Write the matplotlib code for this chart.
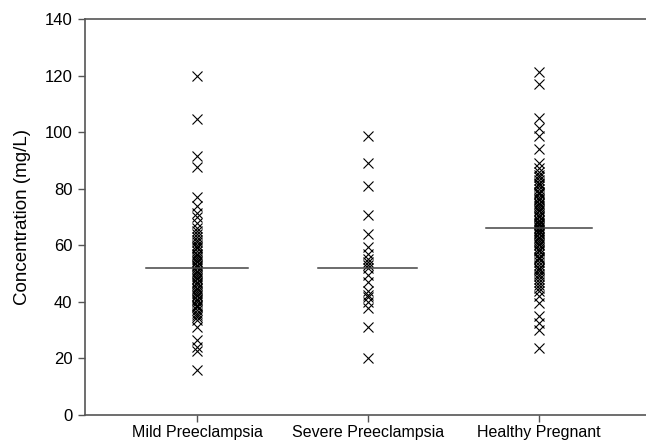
import matplotlib
matplotlib.use('Agg')
import matplotlib.pyplot as plt
import numpy as np

plt.rcParams['font.family'] = ['Liberation Sans', 'DejaVu Sans']

groups = ['Mild Preeclampsia', 'Severe Preeclampsia', 'Healthy Pregnant']

mild = [120, 104.5, 91.5, 87.7, 77, 74, 71.5, 70, 68, 66, 65, 64, 63, 62, 61,
        60, 59.5, 59, 58, 57, 56.5, 56, 55, 54.5, 54, 53, 52.5, 52, 51, 50.5,
        50, 49, 48.5, 48, 47, 46.5, 46, 45, 44.5, 44, 43, 42.5, 42, 41, 40.5,
        40, 39, 38.5, 38, 37, 36, 35.5, 34.5, 33.5, 31, 26.5, 24, 22.5, 16]
severe = [98.6, 89, 81, 70.7, 63.9, 59.3, 57, 55, 54, 53, 52, 49.5, 47, 44,
          42.5, 41.8, 40, 37.8, 31.1, 20.1]
healthy = [121.4, 117, 105, 101.5, 98.6, 94, 89, 87.3, 86, 85, 84, 83, 82,
           81.5, 81, 80, 79, 78.5, 78, 77, 76.5, 76, 75, 74.5, 74, 73, 72.5,
           72, 71, 70.5, 70, 69, 68.5, 68, 67.5, 67, 66.5, 66, 65.5, 65, 64.5,
           64, 63, 62.5, 62, 61, 60.5, 60, 59, 58.5, 58, 57, 56, 55.5, 55, 54,
           53, 52, 51.5, 51, 50, 49, 48, 47, 46, 45, 44, 42, 39.5, 35, 32.5,
           30, 23.7]
medians = [52, 52, 66]
line_halfwidth = [0.30, 0.29, 0.31]

fig = plt.figure(figsize=(6.46, 4.42), dpi=100)
ax = fig.add_axes([0.1316, 0.0611, 0.868, 0.896])

data = [mild, severe, healthy]
for i, vals in enumerate(data):
    x = np.full(len(vals), i + 1)
    ax.plot(x, vals, linestyle='none', marker='x', markersize=7.5,
            markeredgewidth=0.8, color='black')
    ax.plot([i + 1 - line_halfwidth[i], i + 1 + line_halfwidth[i]],
            [medians[i], medians[i]], color='#444444', linewidth=1.1)

ax.set_xlim(0.345, 3.626)
ax.set_ylim(0, 140)
ax.set_yticks(range(0, 141, 20))
ax.set_xticks([1, 2, 3])
ax.set_xticklabels(groups, fontsize=11.5)
ax.tick_params(axis='y', labelsize=12, length=5, width=1, color='#555555', pad=4)
ax.tick_params(axis='x', length=5, width=1, color='#555555', pad=2)
ax.set_ylabel('Concentration (mg/L)', fontsize=13.5, labelpad=10)

for s in ['left', 'bottom', 'top']:
    ax.spines[s].set_color('#555555')
    ax.spines[s].set_linewidth(1.2)
ax.spines['right'].set_visible(False)

fig.savefig('out.png', dpi=100)
